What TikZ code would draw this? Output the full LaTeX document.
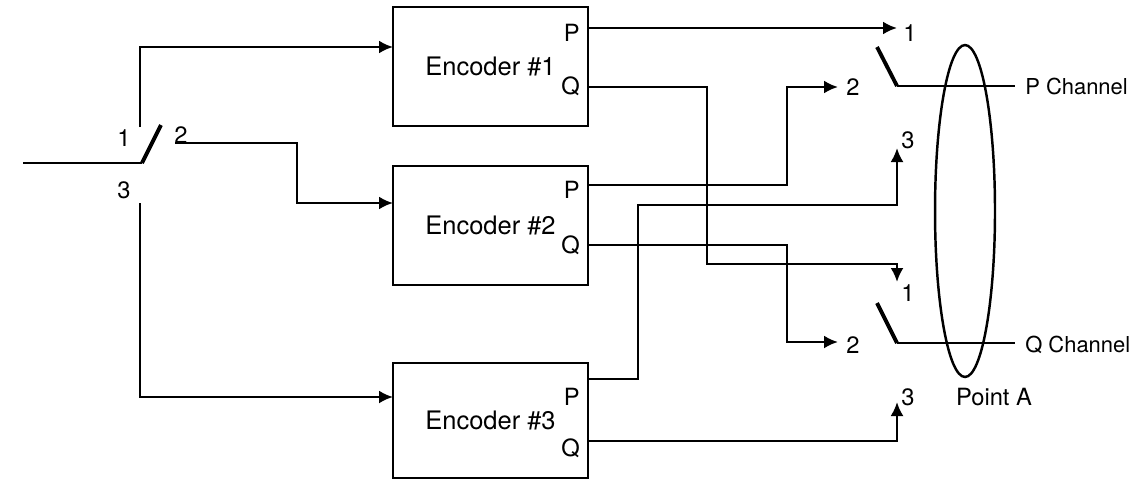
\documentclass[tikz,border=0pt]{standalone}
\usepackage{fontspec}
\setmainfont{TeX Gyre Heros}
\usetikzlibrary{shapes.geometric, arrows.meta}
\begin{document}
\begin{tikzpicture}[x=0.02cm, y=-0.02cm, line width=1.4pt,
  font=\fontsize{13.5}{16}\selectfont,
  enc/.style={draw, line width=1.6pt, minimum width=3.9cm, minimum height=2.38cm,
    font=\fontsize{14.5}{17}\selectfont},
  port/.style={anchor=east, inner sep=0pt},
  chan/.style={anchor=west, inner sep=0pt, font=\fontsize{12.5}{15}\selectfont},
  wire/.style={arrows=-{Latex[length=2.8mm, width=2.6mm]}},
  blade/.style={line width=2.2pt}]
\useasboundingbox (0,0) rectangle (1141,480);
\node (enc1)[enc] at (490.5,66.5) {Encoder \#1};
\node (enc2)[enc] at (490.5,225.5) {Encoder \#2};
\node (enc3)[enc, minimum height=2.3cm] at (490.5,420.5) {Encoder \#3};
\node (p1)[port] at (581,33) {P};
\node (q1)[port] at (581,86) {Q};
\node (p2)[port] at (581,190) {P};
\node (q2)[port] at (581,245) {Q};
\node (p3)[port] at (581,397) {P};
\node (q3)[port] at (581,448) {Q};
\coordinate (op1) at (588,28);
\coordinate (oq1) at (588,87);
\coordinate (op2) at (588,185);
\coordinate (oq2) at (588,245);
\coordinate (op3) at (588,379);
\coordinate (oq3) at (588,441);
% input switch
\coordinate (in) at (23,163);
\coordinate (piv) at (142,163);
\coordinate (tip) at (161,125);
\coordinate (t1) at (140,127);
\coordinate (t2) at (175,143);
\coordinate (t3) at (140,203);
\coordinate (e1in) at (393,47);
\coordinate (e2in) at (393,203);
\coordinate (e3in) at (393,397);
\node (s1) at (124,138) {1};
\node (s2) at (181,135) {2};
\node (s3) at (124,190) {3};
\draw (in) -- (piv);
\draw[blade] (piv) -- (tip);
\draw[wire] (t1) |- (e1in);
\draw[wire] (t2) -| (297,203) -- (e2in);
\draw[wire] (t3) |- (e3in);
% output terminals
\coordinate (pa1) at (897,28);
\coordinate (pa2) at (838,87);
\coordinate (pa3) at (897,148);
\coordinate (qa1) at (897,282);
\coordinate (qa2) at (838,342);
\coordinate (qa3) at (897,402);
\node (lp1) at (910,33) {1};
\node (lp2) at (853,87) {2};
\node (lp3) at (908,140) {3};
\node (lq1) at (908,293) {1};
\node (lq2) at (853,345) {2};
\node (lq3) at (908,397) {3};
\draw[wire] (op1) -- (pa1);
\draw[wire] (oq1) -| (707,264) -| (qa1);
\draw[wire] (op2) -| (787,87) -- (pa2);
\draw[wire] (oq2) -| (787,342) -- (qa2);
\draw[wire] (op3) -| (638,205) -| (pa3);
\draw[wire] (oq3) -| (qa3);
% output switches
\coordinate (pb) at (877,47);
\coordinate (pp) at (897,86);
\coordinate (pe) at (1015,86);
\coordinate (qb) at (877,303);
\coordinate (qp) at (897,343);
\coordinate (qe) at (1015,343);
\draw[blade] (pb) -- (pp);
\draw[blade] (qb) -- (qp);
\draw (pp) -- (pe);
\draw (qp) -- (qe);
\node (pch)[chan] at (1024,86) {P Channel};
\node (qch)[chan] at (1024,345) {Q Channel};
\node (ptA)[draw, ellipse, inner sep=0pt, minimum width=1.2cm, minimum height=6.64cm] at (965,211) {};
\node (lA) at (994,397) {Point A};
\end{tikzpicture}
\end{document}
